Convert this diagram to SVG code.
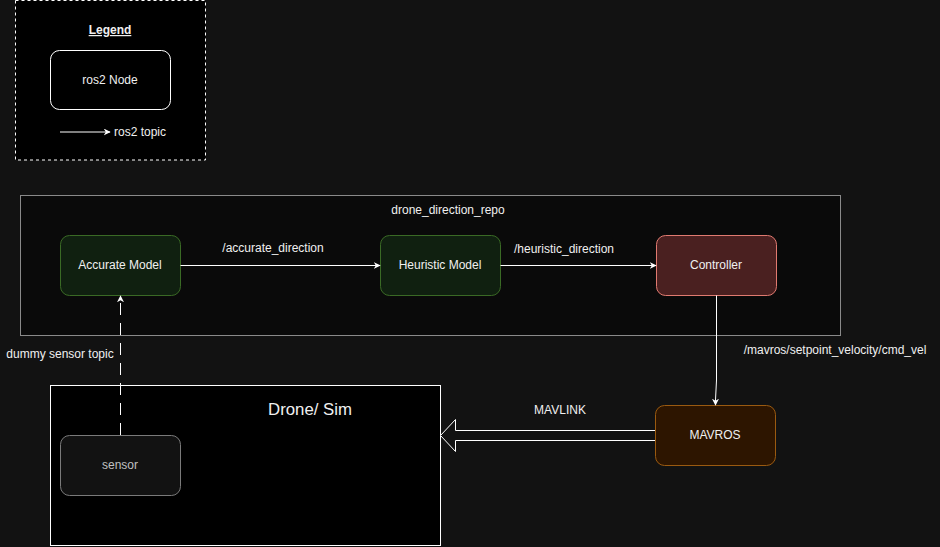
<svg xmlns="http://www.w3.org/2000/svg" width="940" height="547" viewBox="0 0 940 547">
<defs>
<style>
text{font-family:"Liberation Sans",Arial,sans-serif;font-size:12px;fill:#f0f0f0;text-anchor:middle}
.node{stroke-width:1}
.edge{stroke:#ffffff;stroke-width:1;fill:none}
</style>
<marker id="arr" viewBox="0 0 10 10" refX="9" refY="5" markerWidth="7" markerHeight="7" orient="auto" markerUnits="userSpaceOnUse">
<path d="M0,0 L10,5 L0,10 L3,5 Z" fill="#ffffff"/>
</marker>
</defs>
<rect x="0" y="0" width="940" height="547" fill="#121212"/>

<g id="legend">
<rect x="15.5" y="0.5" width="190" height="159.5" fill="#000000" stroke="#ffffff" stroke-dasharray="3 3"/>
<text x="110" y="34" font-weight="bold" text-decoration="underline">Legend</text>
<rect x="50.5" y="50.5" width="120" height="59" rx="9" fill="#000000" stroke="#ffffff"/>
<text x="110" y="84">ros2 Node</text>
<line x1="60" y1="132" x2="110" y2="132" class="edge" marker-end="url(#arr)"/>
<text x="114" y="136" style="text-anchor:start">ros2 topic</text>
</g>

<g id="drone_direction_repo">
<rect x="20.5" y="195.5" width="820" height="140" fill="#0a0a0a" stroke="#8a8a8a"/>
<text x="448" y="214">drone_direction_repo</text>
</g>

<g id="drone_sim">
<rect x="50.5" y="385.5" width="390" height="160" fill="#000000" stroke="#ffffff"/>
<text x="310" y="415" style="font-size:16.8px">Drone/ Sim</text>
</g>

<g id="accurate_model">
<rect x="60.5" y="235.5" width="120" height="60" rx="9" fill="#102010" stroke="#3a6a25"/>
<text x="120" y="269">Accurate Model</text>
</g>

<g id="heuristic_model">
<rect x="380.5" y="235.5" width="120" height="60" rx="9" fill="#102010" stroke="#3a6a25"/>
<text x="440" y="269">Heuristic Model</text>
</g>

<g id="controller">
<rect x="656.5" y="235.5" width="120" height="60" rx="9" fill="#4a2020" stroke="#e07a70"/>
<text x="716" y="269">Controller</text>
</g>

<g id="mavros">
<rect x="655.5" y="405.5" width="120" height="60" rx="9" fill="#2d1500" stroke="#9a5a10"/>
<text x="715" y="439">MAVROS</text>
</g>

<g id="sensor">
<rect x="60.5" y="435.5" width="120" height="60" rx="9" fill="#121212" stroke="#7a7a7a"/>
<text x="120" y="469" style="fill:#c0c0c0">sensor</text>
</g>

<g id="connectors">
<line x1="180.5" y1="265.5" x2="380" y2="265.5" class="edge" marker-end="url(#arr)"/>
<text x="273" y="252">/accurate_direction</text>
<line x1="500.5" y1="265.5" x2="656" y2="265.5" class="edge" marker-end="url(#arr)"/>
<text x="564" y="253">/heuristic_direction</text>
<polyline points="716.5,295.5 716.5,380 715.5,400 715.5,405" class="edge" marker-end="url(#arr)"/>
<text x="835" y="354">/mavros/setpoint_velocity/cmd_vel</text>
<line x1="120.5" y1="435" x2="120.5" y2="296" class="edge" stroke-dasharray="12 8" marker-end="url(#arr)"/>
<text x="60" y="358">dummy sensor topic</text>
<path d="M655,430.5 L455.5,430.5 L455.5,419.5 L440.5,435.5 L455.5,451.5 L455.5,440.5 L655,440.5" fill="#121212" stroke="#ffffff" stroke-width="1"/>
<text x="560" y="414">MAVLINK</text>
</g>
</svg>
